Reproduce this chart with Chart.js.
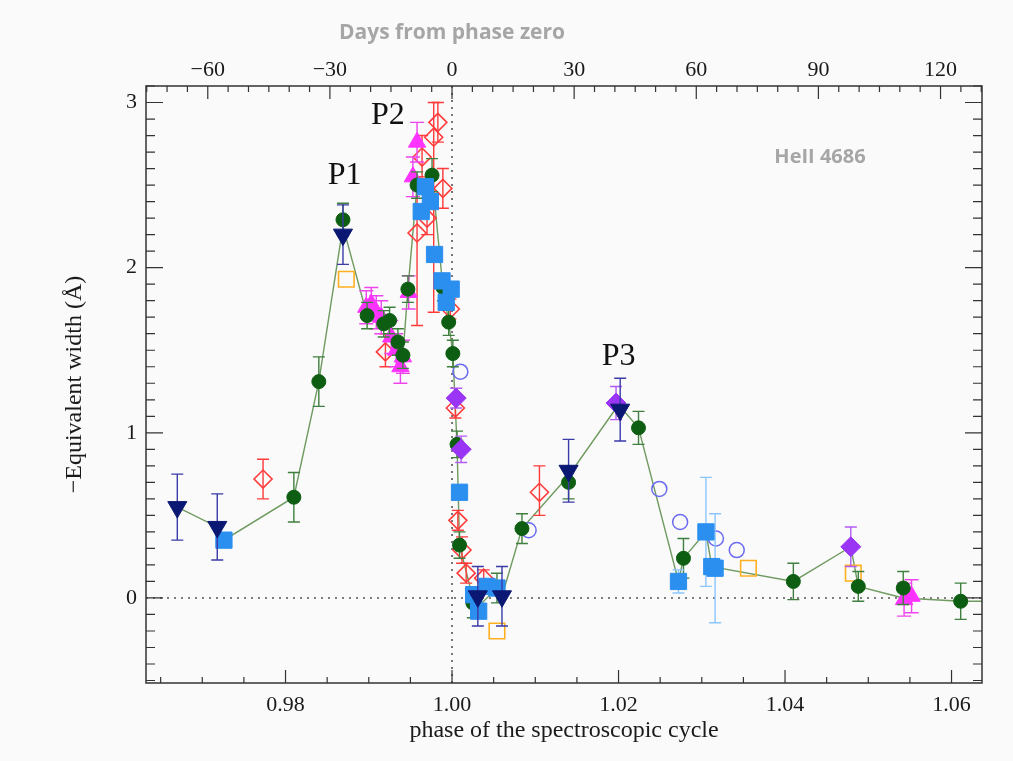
<!DOCTYPE html>
<html><head><meta charset="utf-8">
<script src="https://cdn.jsdelivr.net/npm/chart.js@4/dist/chart.umd.min.js"></script>
<style>
html,body{margin:0;padding:0;background:#fafafa;}
#wrap{position:relative;width:1013px;height:761px;}
</style></head><body>
<div id="wrap"><canvas id="c" width="1013" height="761"></canvas></div>
<script>
// ---------------- DATA ----------------
const PERIOD_DAYS = 2045;
const phaseTicks = [0.98, 1.00, 1.02, 1.04, 1.06];
const dayTicks = [-60, -30, 0, 30, 60, 90, 120];
const ewTicks = [0, 1, 2, 3];

// green filled circles
const greenPhase = [0.9810,0.9840,0.9869,0.9898,0.9918,0.9925,0.9935,0.9941,0.9947,0.9958,0.9976,0.9989,0.9996,1.0001,1.0006,1.0009,1.0025,1.0054,1.0084,1.0140,1.0224,1.0278,1.0410,1.0488,1.0542,1.0611];
const greenEW    = [0.61,1.31,2.29,1.71,1.66,1.68,1.55,1.47,1.87,2.50,2.56,1.88,1.67,1.48,0.93,0.32,-0.03,0.06,0.42,0.70,1.03,0.24,0.10,0.07,0.06,-0.02];
const greenErr   = [0.15,0.15,0.10,0.08,0.08,0.08,0.08,0.08,0.08,0.08,0.10,0.08,0.08,0.08,0.08,0.08,0.09,0.09,0.09,0.10,0.10,0.12,0.11,0.09,0.10,0.11];

// navy downward triangles
const navyPhase = [0.9670,0.9718,0.9869,1.0031,1.0060,1.0140,1.0202];
const navyEW    = [0.55,0.43,2.20,0.01,0.01,0.77,1.14];
const navyErr   = [0.20,0.20,0.18,0.18,0.18,0.19,0.19];

// blue filled squares
const bluePhase = [0.9726,0.9963,0.9968,0.9974,0.9979,0.9988,0.9993,0.9999,1.0009,1.0026,1.0032,1.0042,1.0054,1.0272,1.0305,1.0312,1.0316];
const blueEW    = [0.35,2.34,2.49,2.40,2.08,1.92,1.79,1.87,0.64,0.02,-0.08,0.07,0.06,0.10,0.40,0.19,0.18];
const blueErr   = [0,0,0,0,0,0,0,0,0,0,0,0,0,0.07,0.33,0,0.33];

// red open diamonds ([low, high])
const redPhase = [0.9773,0.9920,0.9958,0.9964,0.9970,0.9978,0.9983,0.9989,0.9998,1.0004,1.0007,1.0012,1.0017,1.0038,1.0105];
const redEW    = [0.72,1.49,2.21,2.67,2.30,2.79,2.88,2.48,1.75,1.15,0.47,0.29,0.15,0.12,0.64];
const redErr   = [[0.60,0.84],[1.40,1.60],[1.65,2.55],[2.55,2.80],[2.20,2.42],[1.73,3.00],[2.76,3.00],[2.36,2.60],[1.69,1.81],[1.09,1.21],[0.41,0.53],[0.21,0.37],[0.09,0.21],[0.07,0.17],[0.50,0.80]];

// orange open squares
const orangePhase = [0.9873,1.0054,1.0356,1.0482];
const orangeEW    = [1.93,-0.20,0.18,0.15];

// blue open circles
const circPhase = [1.0010,1.0092,1.0249,1.0274,1.0317,1.0342];
const circEW    = [1.37,0.41,0.66,0.46,0.36,0.29];

// magenta triangles
const magPhase = [0.9897,0.9903,0.9909,0.9915,0.9927,0.9933,0.9938,0.9941,0.9948,0.9953,0.9958,1.0543,1.0552];
const magEW    = [1.76,1.78,1.73,1.70,1.58,1.50,1.40,1.46,1.85,2.55,2.76,-0.01,0.01];
const magErr   = [0.10,0.10,0.10,0.10,0.10,0.10,0.10,0.10,0.10,0.12,0.12,0.10,0.10];

// purple filled diamonds
const purPhase = [1.0005,1.0011,1.0197,1.0479];
const purEW    = [1.21,0.90,1.18,0.31];
const purErr   = [0.06,0.08,0.10,0.12];

// connecting trend line
const trendPhase = [0.9670,0.9718,0.9726,0.9810,0.9840,0.9869,0.9898,0.9918,0.9935,0.9941,0.9947,0.9958,0.9976,0.9989,0.9996,1.0001,1.0006,1.0009,1.0025,1.0032,1.0054,1.0060,1.0084,1.0140,1.0200,1.0224,1.0272,1.0278,1.0305,1.0312,1.0410,1.0479,1.0488,1.0542,1.0611,1.0637];
const trendEW    = [0.55,0.43,0.35,0.61,1.31,2.25,1.71,1.66,1.55,1.47,1.87,2.50,2.56,1.88,1.67,1.48,0.93,0.32,0.00,-0.05,0.06,0.01,0.42,0.74,1.17,1.03,0.10,0.24,0.40,0.19,0.10,0.31,0.07,0.00,-0.02,-0.02];

// ---------------- BUILD ----------------
const pts = (xs, ys) => xs.map((x, i) => ({x: x, y: ys[i]}));
const XMIN = 0.96324, XMAX = 1.06366;
const YMIN = -0.515, YMAX = 3.10;
const SERIF = "'Liberation Serif', 'Times New Roman', serif";
const SANS = "'Open Sans', 'Noto Sans', sans-serif";

const errorBars = {
  id: 'errorBars',
  beforeDatasetDraw(chart, args) {
    const ds = chart.data.datasets[args.index];
    if (!ds.errs) return;
    const xs = chart.scales.x, ys = chart.scales.y, ctx = chart.ctx;
    ctx.save();
    ctx.beginPath();
    ctx.rect(chart.chartArea.left, chart.chartArea.top, chart.chartArea.width, chart.chartArea.height);
    ctx.clip();
    ctx.strokeStyle = ds.errColor; ctx.lineWidth = 1.4;
    ds.data.forEach((p, i) => {
      const e = ds.errs[i]; if (!e) return;
      const lo = Array.isArray(e) ? e[0] : p.y - e;
      const hi = Array.isArray(e) ? e[1] : p.y + e;
      const px = xs.getPixelForValue(p.x);
      const y1 = ys.getPixelForValue(lo), y2 = ys.getPixelForValue(hi);
      const c = ds.capW || 5;
      ctx.beginPath();
      ctx.moveTo(px, y1); ctx.lineTo(px, y2);
      ctx.moveTo(px - c, y1); ctx.lineTo(px + c, y1);
      ctx.moveTo(px - c, y2); ctx.lineTo(px + c, y2);
      ctx.stroke();
    });
    ctx.restore();
  }
};

const frame = {
  id: 'frame',
  beforeDatasetsDraw(chart) {
    const {ctx, chartArea: a} = chart;
    const xs = chart.scales.x, ys = chart.scales.y;
    ctx.save();
    ctx.strokeStyle = '#555'; ctx.lineWidth = 1.6; ctx.setLineDash([2, 5]);
    const x0 = xs.getPixelForValue(1.0), y0 = ys.getPixelForValue(0);
    ctx.beginPath(); ctx.moveTo(x0, a.top); ctx.lineTo(x0, a.bottom); ctx.stroke();
    ctx.beginPath(); ctx.moveTo(a.left, y0); ctx.lineTo(a.right, y0); ctx.stroke();
    ctx.restore();
  },
  afterDatasetsDraw(chart) {
    const {ctx, chartArea: a} = chart;
    const xs = chart.scales.x, ys = chart.scales.y, xt = chart.scales.x2;
    ctx.save();
    ctx.strokeStyle = '#333'; ctx.lineWidth = 1.5;
    ctx.strokeRect(a.left, a.top, a.width, a.height);
    ctx.lineWidth = 1.2;
    ctx.beginPath();
    // bottom phase ticks
    for (let k = 0; k <= 20; k++) {
      const v = 0.965 + k * 0.005;
      if (v > XMAX) break;
      const major = Math.abs(Math.round(v * 50) - v * 50) < 1e-6;
      const px = xs.getPixelForValue(v), L = major ? 13 : 6;
      ctx.moveTo(px, a.bottom); ctx.lineTo(px, a.bottom - L);
    }
    // top day ticks
    for (let d = -75; d <= 130; d += 5) {
      const px = xt.getPixelForValue(d);
      if (px < a.left || px > a.right) continue;
      const L = (d % 30 === 0) ? 13 : 6;
      ctx.moveTo(px, a.top); ctx.lineTo(px, a.top + L);
    }
    // left/right ticks
    for (let k = -5; k <= 31; k++) {
      const v = k / 10;
      const py = ys.getPixelForValue(v);
      if (py < a.top || py > a.bottom) continue;
      const L = (k % 10 === 0) ? 17 : 9;
      ctx.moveTo(a.left, py); ctx.lineTo(a.left + L, py);
      ctx.moveTo(a.right, py); ctx.lineTo(a.right - L, py);
    }
    ctx.stroke();
    // texts
    ctx.textAlign = 'center'; ctx.textBaseline = 'middle';
    ctx.fillStyle = '#a6a6a6';
    ctx.font = "bold 21px " + SANS;
    ctx.fillText('Days from phase zero', xt.getPixelForValue(0), 33);
    ctx.font = "bold 20px " + SANS;
    ctx.fillText('HeII 4686', xs.getPixelForValue(1.0442), ys.getPixelForValue(2.67));
    ctx.fillStyle = '#111';
    ctx.font = "32px " + SERIF;
    ctx.fillText('P1', xs.getPixelForValue(0.9871), ys.getPixelForValue(2.56));
    ctx.fillText('P2', xs.getPixelForValue(0.9923), ys.getPixelForValue(2.92));
    ctx.fillText('P3', xs.getPixelForValue(1.0200), ys.getPixelForValue(1.46));
    ctx.restore();
  }
};

const sc = (label, xs, ys, style) => Object.assign({type: 'scatter', label, data: pts(xs, ys), showLine: false}, style);

const datasets = [
  sc('navy', navyPhase, navyEW, {order: 1, pointStyle: 'triangle', rotation: 180, pointRadius: 11, backgroundColor: '#0b1873', borderColor: '#0b1873', borderWidth: 1, errs: navyErr, errColor: '#3b3ba8', capW: 6}),
  sc('blueSq', bluePhase, blueEW, {order: 2, pointStyle: 'rect', pointRadius: 11.5, backgroundColor: '#2b8ff0', borderColor: '#2b8ff0', borderWidth: 1, errs: blueErr, errColor: '#8cc6ff', capW: 6}),
  sc('purple', purPhase, purEW, {order: 3, pointStyle: 'rectRot', pointRadius: 10, backgroundColor: '#9b35f5', borderColor: '#9b35f5', borderWidth: 1, errs: purErr, errColor: '#b35cf5', capW: 6}),
  sc('green', greenPhase, greenEW, {order: 4, pointStyle: 'circle', pointRadius: 7, backgroundColor: '#0d5e12', borderColor: '#0d5e12', borderWidth: 1, errs: greenErr, errColor: '#3f7f3f', capW: 6}),
  sc('magenta', magPhase, magEW, {order: 5, pointStyle: 'triangle', pointRadius: 10, backgroundColor: '#ff33ff', borderColor: '#ff33ff', borderWidth: 1, errs: magErr, errColor: '#ee44ee', capW: 7}),
  sc('red', redPhase, redEW, {order: 6, pointStyle: 'rectRot', pointRadius: 9, backgroundColor: 'rgba(0,0,0,0)', borderColor: '#ff3b3b', borderWidth: 1.6, errs: redErr, errColor: '#ff3a3a', capW: 6}),
  sc('orange', orangePhase, orangeEW, {order: 7, pointStyle: 'rect', pointRadius: 11, backgroundColor: 'rgba(0,0,0,0)', borderColor: '#ffb020', borderWidth: 1.6}),
  sc('circles', circPhase, circEW, {order: 8, pointStyle: 'circle', pointRadius: 7.5, backgroundColor: 'rgba(0,0,0,0)', borderColor: '#6b6bf0', borderWidth: 1.5}),
  {type: 'line', label: 'trend', order: 9, data: pts(trendPhase, trendEW), borderColor: '#6f9a60', borderWidth: 1.4, pointRadius: 0, tension: 0, fill: false}
];

new Chart(document.getElementById('c'), {
  data: {datasets},
  options: {
    responsive: false,
    animation: false,
    events: [],
    layout: {padding: {left: 0, right: 31, top: 0, bottom: 0}},
    plugins: {legend: {display: false}, tooltip: {enabled: false}},
    scales: {
      x: {
        type: 'linear', position: 'bottom', min: XMIN, max: XMAX,
        grid: {display: false, drawTicks: false}, border: {display: false},
        afterBuildTicks: s => { s.ticks = phaseTicks.map(v => ({value: v})); },
        afterFit: s => { s.height = 78; },
        ticks: {padding: 9, color: '#1a1a1a', font: {family: SERIF, size: 22}, callback: v => v.toFixed(2), maxRotation: 0, autoSkip: false},
        title: {display: true, text: 'phase of the spectroscopic cycle', color: '#1a1a1a', font: {family: SERIF, size: 24}, padding: {top: 0, bottom: 16}}
      },
      x2: {
        type: 'linear', position: 'top', min: (XMIN - 1) * PERIOD_DAYS, max: (XMAX - 1) * PERIOD_DAYS,
        grid: {display: false, drawTicks: false}, border: {display: false},
        afterBuildTicks: s => { s.ticks = dayTicks.map(v => ({value: v})); },
        afterFit: s => { s.height = 86; },
        ticks: {padding: 3, color: '#1a1a1a', font: {family: SERIF, size: 22}, callback: v => (v < 0 ? '\u2212' + Math.abs(v) : String(v)), maxRotation: 0, autoSkip: false}
      },
      y: {
        type: 'linear', position: 'left', min: YMIN, max: YMAX,
        grid: {display: false, drawTicks: false}, border: {display: false},
        afterBuildTicks: s => { s.ticks = ewTicks.map(v => ({value: v})); },
        afterFit: s => { s.width = 146; },
        ticks: {padding: 9, color: '#1a1a1a', font: {family: SERIF, size: 22}, callback: v => String(v)},
        title: {display: true, text: '\u2212Equivalent width (\u00C5)', color: '#1a1a1a', font: {family: SERIF, size: 24}, padding: {top: 60, bottom: 0}}
      }
    }
  },
  plugins: [errorBars, frame]
});
</script>
</body></html>
